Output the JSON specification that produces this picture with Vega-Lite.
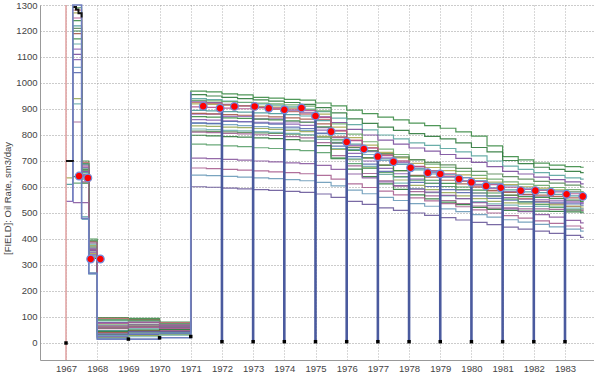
{
 "$schema": "https://vega.github.io/schema/vega-lite/v6.json",
 "width": 554, "height": 355,
 "autosize": "none",
 "padding": {"left": 40, "top": 5, "right": 0, "bottom": 15},
 "background": "white",
 "config": {"view": {"stroke": null}, "font": "Liberation Sans"},
 "datasets": {
  "wells": [
   {"t":1967,"b":635,"d":610,"g":545},
   {"t":1967.22,"T1":1240,"T2":1200,"T3":1150,"T4":1110,"a":1290,"b":1270,"c":1250,"d":1220,"e":1190,"f":1170,"g":1090,"h":1040,"i":940,"j":920,"k":850,"l":640,"B0":615,"B1":540,"m":1280,"n":1210,"o":1130,"p":1060},
   {"t":1967.5,"T1":700,"T2":690,"T3":670,"T4":660,"a":650,"b":640,"c":620,"d":655,"e":645,"f":665,"g":675,"h":685,"i":630,"j":486,"k":640,"l":615,"B0":690,"B1":540,"B2":680,"B3":475,"m":695,"n":668,"o":648,"p":635},
   {"t":1967.73,"T1":400,"T2":390,"T3":380,"T4":365,"a":350,"b":345,"c":340,"d":335,"e":330,"f":325,"g":355,"h":360,"i":375,"j":270,"k":360,"l":325,"B0":395,"B1":355,"B2":385,"B3":265,"m":392,"n":370,"o":348,"p":338},
   {"t":1968,"T1":98,"T2":92,"T3":85,"T4":78,"a":70,"b":63,"c":55,"d":48,"e":40,"f":33,"g":25,"h":22,"i":20,"j":18,"k":60,"l":45,"B0":88,"B1":66,"B2":75,"B3":30,"B4":35,"m":95,"n":58,"o":42,"p":28},
   {"t":1969,"T1":95,"T2":90,"T3":84,"T4":78,"a":72,"b":66,"c":60,"d":54,"e":48,"f":42,"g":36,"h":32,"i":28,"j":24,"k":62,"l":50,"B0":86,"B1":70,"B2":80,"B3":38,"B4":44,"m":88,"n":64,"o":46,"p":30},
   {"t":1970,"T1":80,"T2":76,"T3":72,"T4":68,"a":64,"b":60,"c":55,"d":50,"e":46,"f":42,"g":38,"h":35,"i":32,"j":30,"k":58,"l":52,"B0":74,"B1":62,"B2":70,"B3":40,"B4":44,"m":78,"n":60,"o":48,"p":36},
   {"t":1971,"T1":969,"T2":955,"T3":940,"T4":930,"a":933,"b":920,"c":908,"d":895,"e":883,"f":871,"g":859,"h":847,"i":835,"j":823,"k":811,"l":799,"B0":765,"B1":711,"B2":673,"B3":646,"B4":601,"m":925,"n":815,"o":880,"p":845},
   {"t":1971.5,"T1":966,"T2":950,"T3":936,"T4":925,"a":931,"b":918,"c":906,"d":893,"e":881,"f":869,"g":857,"h":845,"i":833,"j":821,"k":809,"l":797,"B0":762,"B1":709,"B2":671,"B3":644,"B4":599,"m":922,"n":814,"o":880,"p":843},
   {"t":1972,"T1":958,"T2":945,"T3":930,"T4":918,"a":928,"b":915,"c":903,"d":890,"e":878,"f":866,"g":854,"h":852,"i":830,"j":818,"k":806,"l":794,"B0":758,"B1":706,"B2":668,"B3":641,"B4":596,"m":916,"n":812,"o":872,"p":840},
   {"t":1972.5,"T1":954,"T2":940,"T3":925,"T4":912,"a":926,"b":913,"c":901,"d":888,"e":876,"f":864,"g":852,"h":850,"i":828,"j":816,"k":804,"l":792,"B0":755,"B1":703,"B2":665,"B3":638,"B4":593,"m":912,"n":810,"o":872,"p":836},
   {"t":1973,"T1":945,"T2":935,"T3":920,"T4":905,"a":923,"b":910,"c":906,"d":885,"e":873,"f":861,"g":849,"h":846,"i":825,"j":813,"k":801,"l":789,"B0":751,"B1":700,"B2":662,"B3":635,"B4":590,"m":905,"n":808,"o":862,"p":832},
   {"t":1973.5,"T1":942,"T2":930,"T3":915,"T4":900,"a":920,"b":907,"c":903,"d":882,"e":870,"f":858,"g":846,"h":842,"i":822,"j":810,"k":798,"l":786,"B0":748,"B1":697,"B2":658,"B3":632,"B4":587,"m":898,"n":806,"o":862,"p":828},
   {"t":1974,"T1":937,"T2":925,"T3":908,"T4":893,"a":916,"b":903,"c":899,"d":878,"e":866,"f":854,"g":842,"h":830,"i":818,"j":806,"k":794,"l":782,"B0":744,"B1":693,"B2":655,"B3":628,"B4":583,"m":890,"n":803,"o":850,"p":823},
   {"t":1974.5,"T1":934,"T2":918,"T3":900,"T4":885,"a":911,"b":898,"c":894,"d":873,"e":861,"f":849,"g":837,"h":825,"i":813,"j":801,"k":789,"l":777,"B0":740,"B1":690,"B2":651,"B3":624,"B4":579,"m":880,"n":800,"o":850,"p":818},
   {"t":1975,"T1":923,"T2":905,"T3":890,"T4":870,"a":893,"b":880,"c":868,"d":855,"e":843,"f":831,"g":819,"h":807,"i":795,"j":783,"k":771,"l":759,"B0":732,"B1":683,"B2":645,"B3":618,"B4":573,"m":860,"n":792,"o":828,"p":805},
   {"t":1975.5,"T1":912,"T2":885,"T3":865,"T4":848,"a":843,"b":830,"c":818,"d":805,"e":793,"f":781,"g":769,"h":757,"i":745,"j":748,"k":721,"l":709,"B0":712,"B1":668,"B2":630,"B3":604,"B4":560,"m":815,"n":770,"o":790,"p":772},
   {"t":1976,"T1":896,"T2":862,"T3":840,"T4":822,"a":803,"b":790,"c":778,"d":765,"e":753,"f":741,"g":729,"h":717,"i":705,"j":708,"k":681,"l":669,"B0":690,"B1":650,"B2":612,"B3":588,"B4":545,"m":780,"n":752,"o":760,"p":745},
   {"t":1976.5,"T1":882,"T2":845,"T3":820,"T4":800,"a":774,"b":761,"c":749,"d":736,"e":712,"f":712,"g":700,"h":688,"i":676,"j":679,"k":652,"l":640,"B0":672,"B1":635,"B2":598,"B3":574,"B4":533,"m":752,"n":740,"o":738,"p":725},
   {"t":1977,"T1":869,"T2":830,"T3":800,"T4":780,"a":746,"b":733,"c":721,"d":708,"e":684,"f":684,"g":672,"h":660,"i":648,"j":648,"k":624,"l":612,"B0":655,"B1":620,"B2":584,"B3":560,"B4":520,"m":725,"n":728,"o":712,"p":702},
   {"t":1977.5,"T1":858,"T2":818,"T3":785,"T4":765,"a":725,"b":712,"c":700,"d":687,"e":663,"f":663,"g":651,"h":639,"i":627,"j":615,"k":603,"l":591,"B0":640,"B1":605,"B2":570,"B3":548,"B4":510,"m":700,"n":716,"o":695,"p":688},
   {"t":1978,"T1":846,"T2":805,"T3":770,"T4":750,"a":704,"b":691,"c":679,"d":666,"e":645,"f":642,"g":630,"h":618,"i":606,"j":594,"k":582,"l":570,"B0":626,"B1":592,"B2":558,"B3":536,"B4":500,"m":678,"n":705,"o":672,"p":672},
   {"t":1978.5,"T1":836,"T2":795,"T3":760,"T4":738,"a":688,"b":675,"c":663,"d":650,"e":638,"f":626,"g":614,"h":602,"i":590,"j":578,"k":566,"l":554,"B0":614,"B1":580,"B2":547,"B3":526,"B4":491,"m":660,"n":695,"o":655,"p":660},
   {"t":1979,"T1":826,"T2":785,"T3":748,"T4":725,"a":676,"b":663,"c":651,"d":638,"e":626,"f":614,"g":602,"h":590,"i":578,"j":566,"k":548,"l":542,"B0":602,"B1":568,"B2":536,"B3":516,"B4":482,"m":642,"n":685,"o":640,"p":648},
   {"t":1979.5,"T1":812,"T2":770,"T3":735,"T4":710,"a":660,"b":647,"c":636,"d":623,"e":612,"f":600,"g":589,"h":578,"i":566,"j":555,"k":536,"l":532,"B0":590,"B1":555,"B2":524,"B3":505,"B4":473,"m":622,"n":672,"o":624,"p":636},
   {"t":1980,"T1":796,"T2":752,"T3":720,"T4":695,"a":645,"b":633,"c":622,"d":610,"e":599,"f":588,"g":577,"h":566,"i":555,"j":544,"k":527,"l":522,"B0":577,"B1":540,"B2":512,"B3":494,"B4":464,"m":603,"n":660,"o":608,"p":625},
   {"t":1980.5,"T1":758,"T2":735,"T3":700,"T4":678,"a":630,"b":619,"c":609,"d":597,"e":587,"f":577,"g":566,"h":556,"i":545,"j":535,"k":519,"l":514,"B0":565,"B1":528,"B2":500,"B3":484,"B4":455,"m":585,"n":650,"o":595,"p":614},
   {"t":1981,"T1":717,"T2":702,"T3":680,"T4":660,"a":620,"b":609,"c":599,"d":589,"e":579,"f":569,"g":559,"h":549,"i":539,"j":530,"k":520,"l":510,"B0":553,"B1":516,"B2":490,"B3":474,"B4":446,"m":568,"n":640,"o":582,"p":604},
   {"t":1981.5,"T1":704,"T2":690,"T3":668,"T4":650,"a":611,"b":601,"c":591,"d":581,"e":572,"f":563,"g":553,"h":544,"i":535,"j":525,"k":516,"l":507,"B0":542,"B1":505,"B2":480,"B3":465,"B4":438,"m":555,"n":630,"o":570,"p":596},
   {"t":1982,"T1":692,"T2":676,"T3":655,"T4":638,"a":606,"b":596,"c":587,"d":578,"e":569,"f":560,"g":551,"h":542,"i":534,"j":525,"k":516,"l":507,"B0":532,"B1":494,"B2":470,"B3":456,"B4":430,"m":545,"n":622,"o":562,"p":590},
   {"t":1982.5,"T1":684,"T2":668,"T3":645,"T4":628,"a":598,"b":589,"c":581,"d":572,"e":564,"f":556,"g":547,"h":539,"i":531,"j":523,"k":514,"l":506,"B0":522,"B1":484,"B2":460,"B3":447,"B4":422,"m":535,"n":615,"o":555,"p":585},
   {"t":1983,"T1":678,"T2":660,"T3":635,"T4":620,"a":590,"b":582,"c":574,"d":566,"e":558,"f":550,"g":542,"h":535,"i":527,"j":519,"k":511,"l":504,"B0":512,"B1":472,"B2":450,"B3":438,"B4":414,"m":525,"n":607,"o":547,"p":580},
   {"t":1983.5,"T1":676,"T2":655,"T3":630,"T4":612,"a":582,"b":574,"c":567,"d":559,"e":552,"f":545,"g":537,"h":530,"i":523,"j":516,"k":509,"l":501,"B0":504,"B1":462,"B2":442,"B3":430,"B4":406,"m":515,"n":600,"o":540,"p":575},
   {"t":1983.6,"T1":676,"T2":655,"T3":630,"T4":612,"a":582,"b":574,"c":567,"d":559,"e":552,"f":545,"g":537,"h":530,"i":523,"j":516,"k":509,"l":501,"B0":504,"B1":462,"B2":442,"B3":430,"B4":406,"m":515,"n":600,"o":540,"p":575}
  ],
  "blue": [
   {"t":1967.2199,"v":545},{"t":1967.22,"v":1300},{"t":1967.5,"v":480},{"t":1967.73,"v":268},
   {"t":1968,"v":15},{"t":1969,"v":15},{"t":1970,"v":20},{"t":1971,"v":25},{"t":1971.0001,"v":965}
  ],
  "black": [
   {"s":"k1","t":1967,"v":700},{"s":"k1","t":1967.22,"v":697},
   {"s":"k2","t":1967.24,"v":1292},{"s":"k2","t":1967.32,"v":1283},{"s":"k2","t":1967.4,"v":1268},{"s":"k2","t":1967.5,"v":1252}
  ],
  "pink": [{"t":1967,"v":-65.4,"v2":1300}],
  "drops": [
   {"t":1972,"v":5,"v2":900},{"t":1973,"v":5,"v2":895},{"t":1974,"v":5,"v2":888},{"t":1975,"v":5,"v2":865},
   {"t":1976,"v":5,"v2":775},{"t":1977,"v":5,"v2":718},{"t":1978,"v":5,"v2":676},{"t":1979,"v":5,"v2":648},
   {"t":1980,"v":5,"v2":619},{"t":1981,"v":5,"v2":597},{"t":1982,"v":5,"v2":585},{"t":1983,"v":5,"v2":572}
  ],
  "bdots": [
   {"t":1967,"v":0},{"t":1969,"v":15},{"t":1970,"v":20},{"t":1971,"v":25},
   {"t":1972,"v":5},{"t":1973,"v":5},{"t":1974,"v":5},{"t":1975,"v":5},{"t":1976,"v":5},{"t":1977,"v":5},
   {"t":1978,"v":5},{"t":1979,"v":5},{"t":1980,"v":5},{"t":1981,"v":5},{"t":1982,"v":5},{"t":1983,"v":5}
  ],
  "mean": [
   {"t":1967.42,"v":642},{"t":1967.7,"v":635},{"t":1967.79,"v":323},{"t":1968.1,"v":323},
   {"t":1971.4,"v":911},{"t":1971.94,"v":903},{"t":1972.4,"v":910},{"t":1973.05,"v":910},{"t":1973.5,"v":903},
   {"t":1974.0,"v":897},{"t":1974.55,"v":904},{"t":1975.0,"v":873},{"t":1975.5,"v":813},{"t":1976.0,"v":773},
   {"t":1976.55,"v":746},{"t":1977.0,"v":717},{"t":1977.5,"v":697},{"t":1978.05,"v":674},{"t":1978.6,"v":655},
   {"t":1979.0,"v":650},{"t":1979.6,"v":631},{"t":1980.0,"v":618},{"t":1980.47,"v":604},{"t":1980.94,"v":597},
   {"t":1981.58,"v":586},{"t":1982.05,"v":586},{"t":1982.55,"v":580},{"t":1983.05,"v":572},{"t":1983.57,"v":564}
  ]
 },
 "encoding": {
  "x": {"field": "t", "type": "quantitative",
   "scale": {"domain": [1966.166, 1983.93], "nice": false, "zero": false},
   "axis": {"values": [1967,1968,1969,1970,1971,1972,1973,1974,1975,1976,1977,1978,1979,1980,1981,1982,1983],
    "format": "d", "title": null, "grid": true, "gridDash": [1,2], "gridColor": "#b0b0b0",
    "ticks": false, "labelFontSize": 9.5, "labelColor": "#444", "domainColor": "#999", "labelPadding": 3, "labelFlush": false}},
  "y": {"field": "v", "type": "quantitative",
   "scale": {"domain": [-65.4, 1300], "nice": false, "zero": false},
   "axis": {"values": [0,100,200,300,400,500,600,700,800,900,1000,1100,1200,1300],
    "format": "d", "title": "[FIELD]: Oil Rate, sm3/day", "grid": true, "gridDash": [1,2], "gridColor": "#999",
    "ticks": false, "labelFontSize": 9.5, "labelColor": "#444", "domainColor": "#999", "labelPadding": 3, "labelFlush": false,
    "titleFontSize": 9.5, "titleFontWeight": "normal", "titleColor": "#444", "titleX": -28, "titleY": 193}}
 },
 "layer": [
  {
   "data": {"name": "wells"},
   "transform": [
    {"fold": ["T1","T2","T3","T4","a","m","b","c","o","d","e","p","f","g","h","n","i","j","k","l","B0","B1","B2","B3","B4"], "as": ["w","v"]},
    {"filter": "datum.v != null"}
   ],
   "mark": {"type": "line", "interpolate": "step-after", "strokeWidth": 1.2, "opacity": 0.9},
   "encoding": {
    "color": {"field": "w", "type": "nominal", "legend": null,
     "scale": {"domain": ["T1","T2","T3","T4","a","b","c","d","e","f","g","h","i","j","k","l","B0","B1","B2","B3","B4","m","n","o","p"],
      "range": ["#3c8c46","#2f7a3c","#5aa5a0","#7a4e9c","#6aa86a","#a8a850","#b0508c","#4a9a9a","#a55a4a","#3c8c46","#8a60b0","#5a6ab0","#98a858","#70b0b0","#a06090","#2f7a3c","#5aa06a","#8a5aa0","#a86090","#6a9ab8","#6a5a9a","#c07070","#5a8a5a","#9a6ab8","#70a0c0"]}}
   }
  },
  {
   "data": {"name": "pink"},
   "mark": {"type": "rule", "color": "#e0a0a0", "strokeWidth": 1.5},
   "encoding": {"y2": {"field": "v2"}}
  },
  {
   "data": {"name": "blue"},
   "mark": {"type": "line", "interpolate": "step-after", "color": "#7080c0", "strokeWidth": 1.6},
   "encoding": {}
  },
  {
   "data": {"name": "black"},
   "mark": {"type": "line", "interpolate": "step-after", "color": "#111", "strokeWidth": 2},
   "encoding": {"detail": {"field": "s"}}
  },
  {
   "data": {"name": "drops"},
   "mark": {"type": "rule", "color": "#4a5a9e", "strokeWidth": 2.6},
   "encoding": {"y2": {"field": "v2"}}
  },
  {
   "data": {"name": "bdots"},
   "mark": {"type": "point", "shape": "square", "filled": true, "color": "#000", "size": 12, "opacity": 1},
   "encoding": {}
  },
  {
   "data": {"name": "mean"},
   "mark": {"type": "circle", "size": 60, "fill": "#ff0000", "stroke": "#6f8fe0", "strokeWidth": 1.2, "opacity": 1},
   "encoding": {}
  }
 ]
}
